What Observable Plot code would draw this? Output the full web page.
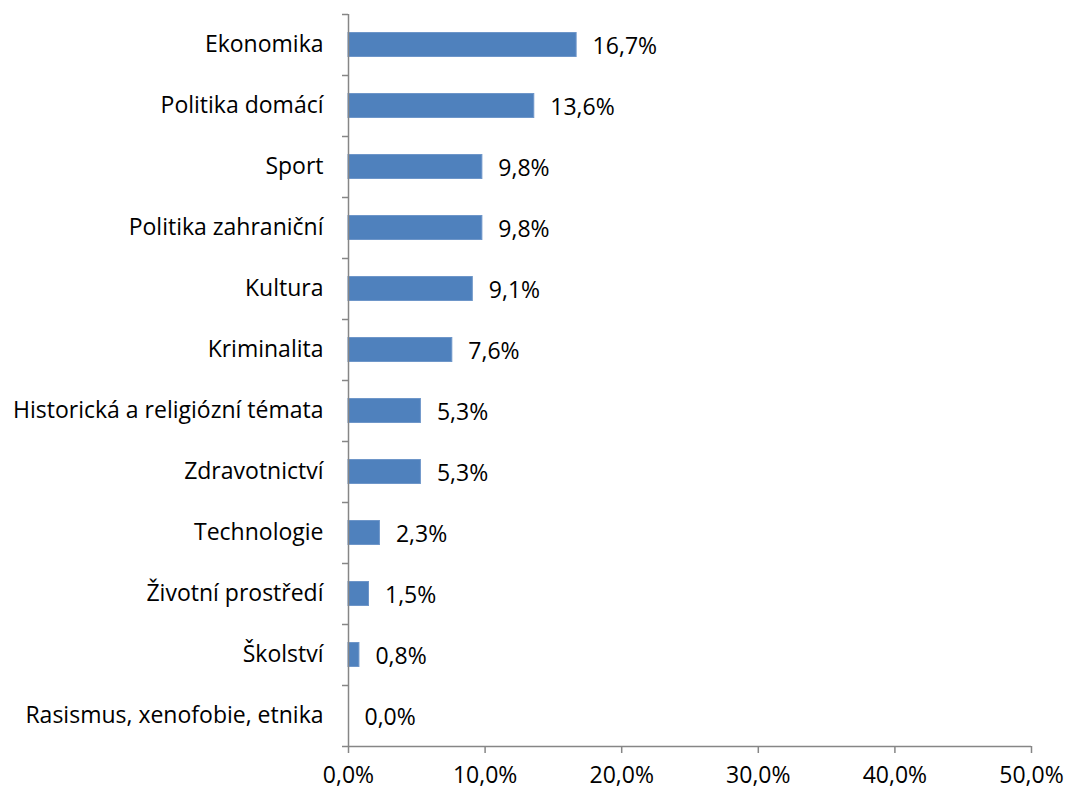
<!DOCTYPE html>
<html>
<head>
<meta charset="utf-8">
<script src="https://cdn.jsdelivr.net/npm/d3@7"></script>
<script src="https://cdn.jsdelivr.net/npm/@observablehq/plot@0.6"></script>
<style>
  html, body { margin: 0; padding: 0; background: #fff; }
  #chart svg { display: block; }
</style>
</head>
<body>
<div id="chart"></div>
<script>
const categories = [
  "Ekonomika",
  "Politika domácí",
  "Sport",
  "Politika zahraniční",
  "Kultura",
  "Kriminalita",
  "Historická a religiózní témata",
  "Zdravotnictví",
  "Technologie",
  "Životní prostředí",
  "Školství",
  "Rasismus, xenofobie, etnika"
];
const values = [16.7, 13.6, 9.8, 9.8, 9.1, 7.6, 5.3, 5.3, 2.3, 1.5, 0.8, 0.0];
const xTicks = [0, 10, 20, 30, 40, 50];

const data = categories.map((c, i) => ({category: c, value: values[i]}));
const fmt = v => v.toFixed(1).replace(".", ",") + "%";

const W = 1068, H = 793;
const mt = 14, mb = 47, ml = 348, mr = 37;
const step = (H - mt - mb) / categories.length;
const barH = 24;
const inset = (step - barH) / 2;
const axisColor = "#868686";
const font = "'Open Sans', sans-serif";
const fs = 23;

const chart = Plot.plot({
  width: W,
  height: H,
  marginTop: mt,
  marginBottom: mb,
  marginLeft: ml,
  marginRight: mr,
  style: {fontFamily: font, fontSize: fs + "px", color: "#000", background: "#fff"},
  x: {domain: [0, 50], ticks: xTicks, tickFormat: fmt},
  y: {domain: categories, padding: 0},
  marks: [
    Plot.barX(data, {
      x: "value", y: "category",
      fill: "#4F81BD", stroke: "#6e96c9", strokeWidth: 1,
      insetTop: inset, insetBottom: inset
    }),
    Plot.text(data, {
      x: "value", y: "category", text: d => fmt(d.value),
      textAnchor: "start", dx: 16, dy: 2, fill: "#000", fontSize: fs
    }),
    // y-axis category boundary ticks
    Plot.ruleY(categories, {y: d => d, x1: 0, x2: 0, insetLeft: -6, dy: -step / 2, stroke: axisColor, strokeWidth: 1.5}),
    Plot.ruleY(categories.slice(-1), {y: d => d, x1: 0, x2: 0, insetLeft: -6, dy: step / 2, stroke: axisColor, strokeWidth: 1.5}),
    Plot.axisY({tickSize: 0, tickPadding: 25, label: null, fill: "#000", fontSize: fs}),
    Plot.ruleX([0], {stroke: axisColor, strokeWidth: 1.5}),
    Plot.axisX({ticks: xTicks, tickFormat: fmt, tickSize: 7, tickPadding: 13, label: null, stroke: axisColor, strokeWidth: 1.5, fill: "#000", fontSize: fs}),
    Plot.ruleY([0], {y: () => categories[categories.length - 1], dy: step / 2, stroke: axisColor, strokeWidth: 1.5, x1: 0, x2: 50})
  ]
});
document.getElementById("chart").appendChild(chart);
</script>
</body>
</html>
